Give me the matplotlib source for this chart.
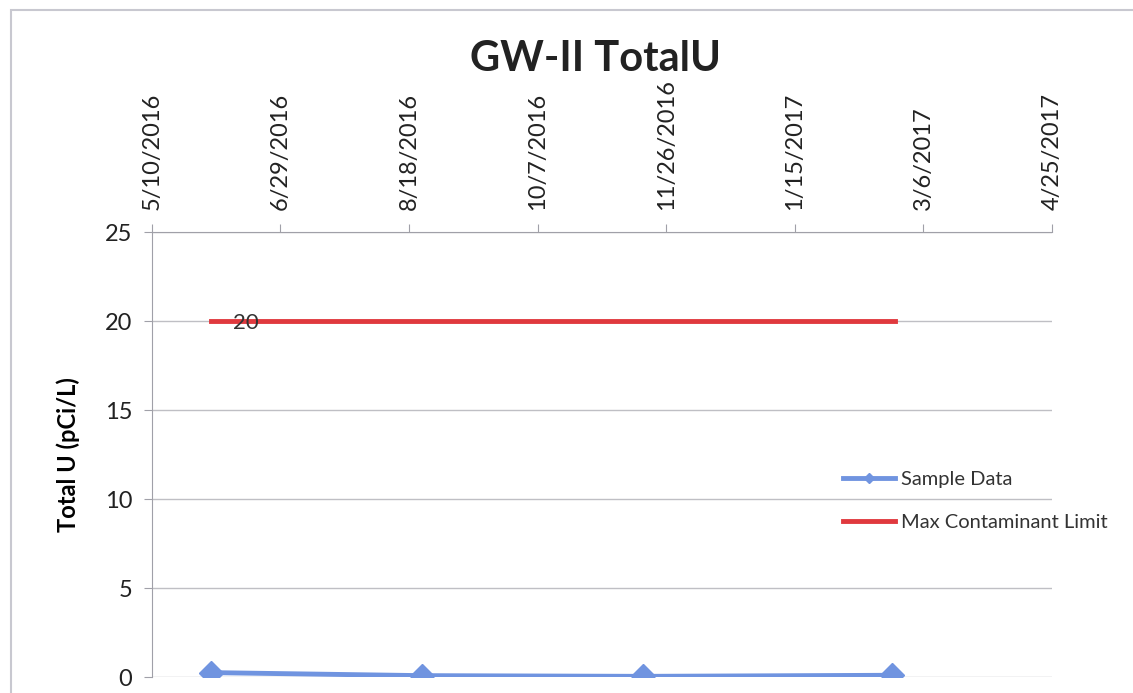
import numpy as np
import matplotlib
matplotlib.use('Agg')
import matplotlib.pyplot as plt
import matplotlib.dates as mdates
from matplotlib.patches import Rectangle
import datetime as dt

plt.rcParams['font.family'] = ['Lato', 'DejaVu Sans']

# sample data
sample_dates = [dt.date(2016, 6, 2), dt.date(2016, 8, 23),
                dt.date(2016, 11, 17), dt.date(2017, 2, 22)]
sample_vals = [0.25, 0.08, 0.04, 0.1]

# max contaminant limit
mcl_dates = [dt.date(2016, 6, 2), dt.date(2017, 2, 23)]
mcl_vals = [20, 20]

# axis ticks
tick_start = dt.date(2016, 5, 10)
tick_step = 50
n_ticks = 8
tick_dates = [tick_start + dt.timedelta(days=tick_step * i) for i in range(n_ticks)]
y_ticks = [0, 5, 10, 15, 20, 25]

fig = plt.figure(figsize=(11.33, 6.93), dpi=100)
ax = fig.add_axes([0.134, 0.023, 0.7944, 0.642])

# chart border
fig.patches.append(Rectangle((11 / 1133, -0.1), 1.2, (693 - 10) / 693 + 0.1,
                             transform=fig.transFigure, fill=False,
                             edgecolor='#c8c8d0', linewidth=1.5))

blue = '#7094e0'
red = '#e0393e'

ax.plot(sample_dates, sample_vals, color=blue, linewidth=3.5, marker='D',
        markersize=12.5, label='Sample Data', zorder=4)
ax.plot(mcl_dates, mcl_vals, color=red, linewidth=3.5, label='Max Contaminant Limit', zorder=3)
ax.annotate('20', (mdates.date2num(mcl_dates[0]), mcl_vals[0]), xytext=(16, -1),
            textcoords='offset points', va='center', ha='left', fontsize=16, color='#333333', zorder=5)

ax.set_xlim(mdates.date2num(tick_dates[0]), mdates.date2num(tick_dates[-1]))
ax.set_ylim(0, 25)
ax.set_xticks([mdates.date2num(d) for d in tick_dates])
ax.set_xticklabels([f'{d.month}/{d.day}/{d.year}' for d in tick_dates], rotation=90,
                   fontsize=17, color='#222222')
ax.xaxis.tick_top()
ax.set_yticks(y_ticks)
ax.set_yticklabels([str(v) for v in y_ticks], fontsize=17, color='#222222')
ax.tick_params(axis='x', direction='out', length=6, color='#a0a0a8', pad=10)
ax.tick_params(axis='y', direction='out', length=6, color='#a0a0a8', pad=8)

ax.grid(axis='y', color='#bfbfc4', linewidth=1)
ax.set_axisbelow(True)
for s in ['right', 'bottom']:
    ax.spines[s].set_visible(False)
ax.spines['top'].set_color('#a0a0a8')
ax.spines['left'].set_color('#a0a0a8')

ax.set_ylabel('Total U (pCi/L)', fontsize=17, fontweight='bold')
ax.yaxis.set_label_coords(-0.08, 0.5)

leg = ax.legend(loc='center left', bbox_to_anchor=(0.768, 0.396), frameon=False,
                fontsize=14.5, handlelength=2.6, labelspacing=1.25, handletextpad=0.3,
                borderpad=0, borderaxespad=0)
for t in leg.get_texts():
    t.set_color('#333333')
leg.legend_handles[0].set_markersize(5)

fig.text(595 / 1133, 1 - 59 / 693, 'GW-II TotalU', ha='center', va='center',
         fontsize=30, fontweight='bold', color='#222222')

fig.savefig('out.png', dpi=100)
